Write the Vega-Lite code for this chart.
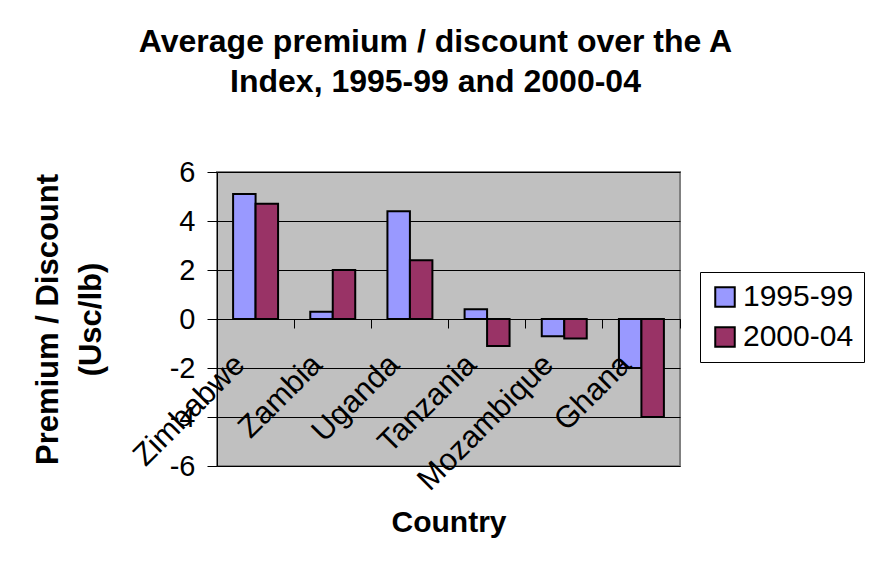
{
  "$schema": "https://vega.github.io/schema/vega-lite/v6.json",
  "width": 463,
  "height": 294,
  "autosize": {"type": "none"},
  "padding": {"left": 217, "top": 172, "right": 191, "bottom": 102},
  "background": "white",
  "title": {
    "text": ["Average premium / discount over the A", "Index, 1995-99 and 2000-04"],
    "fontSize": 32,
    "fontWeight": "bold",
    "lineHeight": 40,
    "anchor": "middle",
    "dx": -13,
    "offset": 59,
    "color": "black"
  },
  "data": {
    "values": [
      {"country": "Zimbabwe", "period": "1995-99", "value": 5.1},
      {"country": "Zimbabwe", "period": "2000-04", "value": 4.7},
      {"country": "Zambia", "period": "1995-99", "value": 0.3},
      {"country": "Zambia", "period": "2000-04", "value": 2.0},
      {"country": "Uganda", "period": "1995-99", "value": 4.4},
      {"country": "Uganda", "period": "2000-04", "value": 2.4},
      {"country": "Tanzania", "period": "1995-99", "value": 0.4},
      {"country": "Tanzania", "period": "2000-04", "value": -1.1},
      {"country": "Mozambique", "period": "1995-99", "value": -0.7},
      {"country": "Mozambique", "period": "2000-04", "value": -0.8},
      {"country": "Ghana", "period": "1995-99", "value": -2.0},
      {"country": "Ghana", "period": "2000-04", "value": -4.0}
    ]
  },
  "mark": {"type": "bar", "stroke": "black", "strokeWidth": 2},
  "encoding": {
    "x": {
      "field": "country",
      "type": "nominal",
      "sort": null,
      "scale": {"paddingInner": 0, "paddingOuter": 0},
      "axis": {
        "title": "Country",
        "orient": "bottom",
        "offset": -147,
        "grid": false,
        "domainColor": "black",
        "domainWidth": 1,
        "ticks": true,
        "tickColor": "black",
        "tickSize": 9,
        "bandPosition": 1,
        "labelAngle": -45,
        "labelAlign": "right",
        "labelBaseline": "top",
        "labelOffset": -26,
        "labelPadding": 21,
        "labelFontSize": 31,
        "labelColor": "black",
        "labelOverlap": false,
        "labelBound": false,
        "titleFontSize": 30,
        "titleFontWeight": "bold",
        "titleColor": "black",
        "titleX": 231.5,
        "titleY": 212,
        "titleBaseline": "alphabetic",
        "titleAlign": "center",
        "zindex": 1
      }
    },
    "xOffset": {
      "field": "period",
      "type": "nominal",
      "scale": {"paddingInner": 0, "paddingOuter": 0.716}
    },
    "y": {
      "field": "value",
      "type": "quantitative",
      "scale": {"domain": [-6, 6], "nice": false},
      "axis": {
        "title": ["Premium / Discount", "(Usc/lb)"],
        "values": [-6, -4, -2, 0, 2, 4, 6],
        "labelExpr": "datum.value < 0 ? '-' + abs(datum.value) : '' + datum.value",
        "grid": true,
        "gridColor": "black",
        "gridWidth": 1,
        "gridOpacity": 1,
        "domainColor": "black",
        "domainWidth": 1,
        "tickColor": "black",
        "tickSize": 10,
        "labelFontSize": 29,
        "labelColor": "black",
        "labelPadding": 12,
        "titleFontSize": 31,
        "titleFontWeight": "bold",
        "titleColor": "black",
        "titleAngle": -90,
        "titleX": -169,
        "titleY": 147,
        "titleBaseline": "middle",
        "titleAlign": "center",
        "titleLineHeight": 43,
        "zindex": 0
      }
    },
    "color": {
      "field": "period",
      "type": "nominal",
      "scale": {"range": ["#9999FF", "#993366"]},
      "legend": {
        "title": null,
        "orient": "none",
        "legendX": 483,
        "legendY": 100,
        "strokeColor": "black",
        "fillColor": "white",
        "padding": 10,
        "symbolType": "square",
        "symbolSize": 380,
        "symbolStrokeColor": "black",
        "symbolStrokeWidth": 2,
        "symbolOpacity": 1,
        "labelFontSize": 30,
        "labelColor": "black",
        "labelOffset": 3,
        "rowPadding": 10
      }
    }
  },
  "config": {
    "font": "Liberation Sans",
    "view": {"fill": "#C0C0C0", "stroke": "#808080", "strokeWidth": 2}
  }
}
